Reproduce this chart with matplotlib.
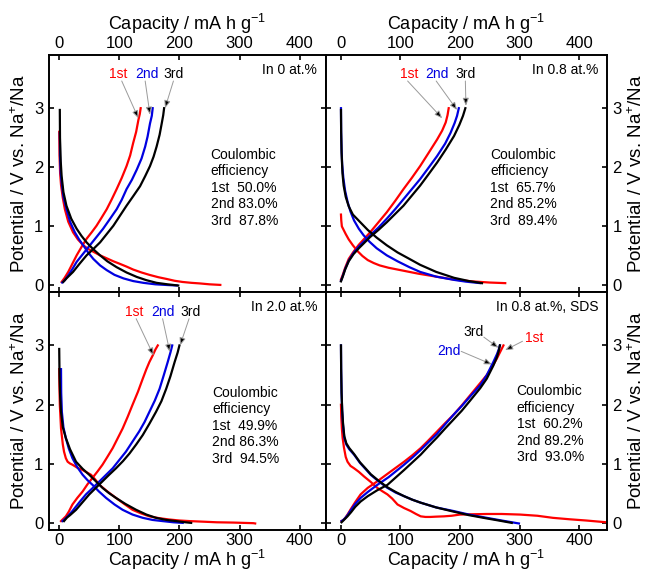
import matplotlib
matplotlib.use("Agg")
import matplotlib.pyplot as plt

plt.rcParams['font.family'] = ['Liberation Sans', 'DejaVu Sans']
plt.rcParams['mathtext.fontset'] = 'custom'
plt.rcParams['mathtext.rm'] = 'Liberation Sans'
plt.rcParams['mathtext.default'] = 'regular'

RED = '#ff0000'
BLUE = '#0000e0'
BLACK = '#000000'

# ---------------- Panel A: In 0 at.% ----------------
a_d1_x = [0, 0.5, 1.5, 3, 6, 9.4, 15, 23, 31, 40, 48, 57, 68, 79, 90, 100, 112, 123, 137, 150, 165, 179, 192, 205, 220, 234, 250, 268]
a_d1_y = [2.6, 2.2, 1.9, 1.7, 1.48, 1.29, 1.08, 0.9, 0.78, 0.68, 0.62, 0.57, 0.51, 0.46, 0.41, 0.37, 0.32, 0.27, 0.22, 0.18, 0.14, 0.11, 0.08, 0.06, 0.045, 0.035, 0.02, 0.01]
a_d2_x = [1, 1.3, 2.5, 4, 7, 12, 18, 26, 33, 40, 48, 56.7, 68, 79, 92, 107, 123, 140, 160, 180, 195.5]
a_d2_y = [2.58, 2.2, 1.9, 1.74, 1.5, 1.29, 1.08, 0.9, 0.78, 0.68, 0.56, 0.45, 0.34, 0.26, 0.18, 0.12, 0.075, 0.045, 0.02, 0.008, 0.0]
a_d3_x = [1, 1.3, 2.5, 4, 7, 12, 20, 29, 37, 45.5, 56, 68, 80, 95.5, 112, 129, 145, 162, 180, 198]
a_d3_y = [2.97, 2.5, 2.1, 1.85, 1.58, 1.35, 1.13, 0.96, 0.84, 0.73, 0.62, 0.51, 0.41, 0.31, 0.22, 0.145, 0.09, 0.045, 0.02, 0.0]
a_c1_x = [4, 9, 15, 22, 29, 37, 45.5, 54, 62, 70, 79, 87, 95.5, 104, 112, 118, 123, 128, 131.7, 134, 135.5]
a_c1_y = [0.06, 0.13, 0.23, 0.37, 0.51, 0.65, 0.79, 0.9, 1.01, 1.14, 1.29, 1.45, 1.63, 1.82, 2.02, 2.2, 2.41, 2.6, 2.8, 2.9, 3.0]
a_c2_x = [5, 9.4, 15, 22, 29, 40, 51, 62, 73, 84, 95.5, 104, 112, 121, 129, 137, 143, 147, 151, 154, 155.5]
a_c2_y = [0.05, 0.09, 0.17, 0.28, 0.4, 0.54, 0.68, 0.82, 0.96, 1.12, 1.29, 1.45, 1.63, 1.79, 1.96, 2.15, 2.35, 2.52, 2.74, 2.87, 3.0]
a_c3_x = [6.7, 12, 17, 23, 34, 45.5, 57, 68, 79, 90, 101, 112, 123, 134.5, 143, 151, 157, 162, 167, 170.5, 173, 174.5]
a_c3_y = [0.06, 0.12, 0.17, 0.23, 0.37, 0.51, 0.62, 0.73, 0.87, 1.01, 1.18, 1.35, 1.51, 1.68, 1.85, 2.02, 2.18, 2.35, 2.55, 2.74, 2.88, 3.0]
a_ce = ['50.0%', '83.0%', '87.8%']

# ---------------- Panel B: In 0.8 at.% ----------------
b_d1_x = [0, 0.5, 1.5, 4, 8, 13, 20, 28, 36, 45, 55, 65, 80, 100, 130, 160, 190, 220, 250, 276]
b_d1_y = [1.2, 1.1, 1.0, 0.95, 0.87, 0.78, 0.68, 0.58, 0.5, 0.43, 0.38, 0.34, 0.3, 0.26, 0.2, 0.15, 0.1, 0.07, 0.05, 0.04]
b_d2_x = [0, 0.3, 1, 2, 4, 7, 11, 16, 22, 30, 38, 48, 60, 77, 95, 115, 133, 160, 190, 210, 234]
b_d2_y = [3.0, 2.6, 2.3, 2.05, 1.82, 1.6, 1.42, 1.25, 1.1, 0.96, 0.85, 0.74, 0.63, 0.51, 0.41, 0.31, 0.23, 0.15, 0.095, 0.065, 0.04]
b_d3_x = [0, 0.3, 1, 2.5, 4.5, 8, 13, 20, 32.5, 45, 60, 77, 95, 115, 133, 160, 190, 215, 237]
b_d3_y = [2.97, 2.6, 2.25, 1.9, 1.69, 1.5, 1.34, 1.2, 1.07, 0.94, 0.81, 0.68, 0.56, 0.45, 0.35, 0.23, 0.13, 0.075, 0.04]
b_c1_x = [0, 3, 7, 13, 21, 30, 40, 49, 63, 77, 91, 105, 119, 133, 147, 161.5, 170, 176, 179, 181]
b_c1_y = [0.1, 0.18, 0.3, 0.45, 0.57, 0.69, 0.8, 0.9, 1.07, 1.24, 1.43, 1.63, 1.82, 2.02, 2.24, 2.47, 2.62, 2.76, 2.88, 3.0]
b_c2_x = [0, 3, 7, 13, 21, 30, 40, 49, 63, 77, 91, 105, 119, 133, 147, 161.5, 175, 184, 191, 195, 198]
b_c2_y = [0.08, 0.16, 0.28, 0.42, 0.55, 0.66, 0.76, 0.85, 0.98, 1.13, 1.29, 1.46, 1.63, 1.8, 1.99, 2.19, 2.4, 2.58, 2.75, 2.87, 3.0]
b_c3_x = [0, 3, 7, 13, 21, 30, 40, 49, 63, 77, 91, 105, 119, 133, 147, 161.5, 176, 190, 199, 205, 209]
b_c3_y = [0.07, 0.15, 0.27, 0.41, 0.53, 0.63, 0.73, 0.82, 0.94, 1.07, 1.21, 1.35, 1.52, 1.69, 1.88, 2.08, 2.3, 2.53, 2.72, 2.87, 3.0]
b_ce = ['65.7%', '85.2%', '89.4%']

# ---------------- Panel C: In 2.0 at.% ----------------
c_d1_x = [0, 0.3, 1, 3, 6, 8, 11, 14, 18, 22, 30, 39, 46, 53, 60, 67, 80, 94.5, 108, 122, 136, 150, 166, 183, 200, 217, 240, 262, 290, 323, 326]
c_d1_y = [2.6, 2.33, 2.0, 1.6, 1.33, 1.21, 1.1, 1.04, 1.01, 0.99, 0.94, 0.9, 0.86, 0.82, 0.74, 0.65, 0.54, 0.43, 0.33, 0.23, 0.17, 0.12, 0.09, 0.067, 0.05, 0.04, 0.03, 0.02, 0.015, 0.005, 0.0]
c_d2_x = [3, 3.3, 4.4, 7, 11, 16, 22, 30, 39, 47, 55.5, 66, 78, 92, 105.5, 122, 139, 155, 172, 190, 205.5]
c_d2_y = [2.6, 2.2, 1.88, 1.62, 1.44, 1.26, 1.1, 0.95, 0.82, 0.73, 0.65, 0.54, 0.43, 0.32, 0.23, 0.15, 0.095, 0.06, 0.04, 0.02, 0.01]
c_d3_x = [0, 0.5, 1.5, 3, 6, 11, 18, 28, 39, 50, 61, 72, 83, 94.5, 110, 128, 145, 161, 178, 194.5, 210, 219.5]
c_d3_y = [2.94, 2.5, 2.15, 1.88, 1.62, 1.44, 1.25, 1.04, 0.92, 0.82, 0.71, 0.6, 0.51, 0.43, 0.33, 0.23, 0.15, 0.095, 0.06, 0.04, 0.02, 0.01]
c_c1_x = [3, 7, 11, 16, 22, 30, 39, 47, 55.5, 64, 72, 80, 89, 97, 105.5, 114, 122, 131, 139, 145, 150, 155.5, 160, 164]
c_c1_y = [0.04, 0.08, 0.12, 0.2, 0.32, 0.43, 0.54, 0.66, 0.77, 0.88, 0.99, 1.12, 1.27, 1.43, 1.6, 1.8, 2.0, 2.22, 2.44, 2.6, 2.72, 2.83, 2.93, 3.0]
c_c2_x = [5.5, 10, 15, 22, 33, 44.5, 56, 67, 78, 89, 100, 111, 122, 133, 142, 150, 159, 167, 174, 180.5, 185, 188]
c_c2_y = [0.04, 0.08, 0.13, 0.21, 0.35, 0.49, 0.6, 0.71, 0.82, 0.93, 1.07, 1.21, 1.38, 1.55, 1.71, 1.88, 2.07, 2.27, 2.5, 2.72, 2.88, 3.0]
c_c3_x = [8, 13, 18, 28, 39, 50, 61, 72, 83, 94.5, 106, 117, 128, 139, 150, 161, 170, 178, 185, 192, 197, 200]
c_c3_y = [0.04, 0.1, 0.14, 0.23, 0.36, 0.49, 0.6, 0.71, 0.82, 0.93, 1.05, 1.18, 1.33, 1.49, 1.68, 1.88, 2.06, 2.27, 2.48, 2.72, 2.88, 3.0]
c_ce = ['49.9%', '86.3%', '94.5%']

# ---------------- Panel D: In 0.8 at.%, SDS ----------------
d_d1_x = [0, 0.5, 1.5, 2.8, 5, 8, 11, 16, 22, 30, 39, 50, 61, 70, 78, 86, 95, 106, 117, 126, 134, 142, 150, 160, 173, 186, 200, 220, 245, 270, 301, 330, 356, 385, 412, 446, 455]
d_d1_y = [2.0, 1.8, 1.6, 1.44, 1.28, 1.12, 1.04, 0.97, 0.93, 0.87, 0.79, 0.7, 0.6, 0.54, 0.49, 0.42, 0.32, 0.26, 0.21, 0.16, 0.12, 0.11, 0.11, 0.115, 0.12, 0.13, 0.15, 0.155, 0.16, 0.16, 0.15, 0.13, 0.095, 0.07, 0.05, 0.02, 0.01]
d_d2_x = [0, 0.3, 1, 2, 3.5, 5.6, 9, 14, 22, 32, 42, 50, 62, 78, 92, 106, 120, 134, 160, 189, 215, 245, 270, 299]
d_d2_y = [3.0, 2.6, 2.2, 1.9, 1.65, 1.44, 1.33, 1.25, 1.16, 1.02, 0.91, 0.82, 0.72, 0.6, 0.52, 0.46, 0.4, 0.35, 0.27, 0.21, 0.15, 0.095, 0.05, 0.0]
d_d3_x = [0, 0.3, 1, 2, 3.5, 5.6, 9, 14, 22, 32, 42, 50, 62, 78, 92, 106, 120, 134, 160, 189, 215, 245, 265, 287]
d_d3_y = [3.0, 2.6, 2.2, 1.92, 1.68, 1.47, 1.35, 1.27, 1.17, 1.03, 0.92, 0.83, 0.73, 0.61, 0.53, 0.46, 0.4, 0.35, 0.27, 0.2, 0.14, 0.085, 0.05, 0.01]
d_c1_x = [1, 4, 7, 11, 17, 24, 33, 45, 61, 80, 106, 120, 134, 147, 161.5, 175, 189, 203, 217, 231, 245, 254, 262, 268, 273]
d_c1_y = [0.04, 0.06, 0.09, 0.15, 0.25, 0.36, 0.49, 0.6, 0.71, 0.85, 1.04, 1.15, 1.27, 1.4, 1.55, 1.69, 1.83, 1.99, 2.16, 2.33, 2.5, 2.64, 2.78, 2.9, 3.0]
d_c2_x = [1, 4, 7, 11, 17, 24, 33, 45, 61, 80, 106, 120, 134, 147, 161.5, 175, 189, 203, 217, 234, 245, 256, 262, 265, 267]
d_c2_y = [0.04, 0.06, 0.09, 0.14, 0.23, 0.33, 0.43, 0.53, 0.65, 0.78, 0.99, 1.11, 1.24, 1.37, 1.51, 1.67, 1.83, 1.98, 2.14, 2.33, 2.5, 2.72, 2.85, 2.93, 3.0]
d_c3_x = [1, 4, 7, 11, 17, 24, 33, 45, 61, 78, 106, 120, 134, 147, 161.5, 175, 189, 203, 217, 234, 245, 256, 262, 265, 267]
d_c3_y = [0.02, 0.05, 0.08, 0.12, 0.19, 0.28, 0.37, 0.46, 0.56, 0.65, 0.9, 1.03, 1.16, 1.3, 1.45, 1.6, 1.75, 1.9, 2.07, 2.28, 2.44, 2.66, 2.8, 2.9, 3.0]
d_ce = ['60.2%', '89.2%', '93.0%']

cycle_labels = ['1st', '2nd', '3rd']
panel_titles = ['In 0 at.%', 'In 0.8 at.%', 'In 2.0 at.%', 'In 0.8 at.%, SDS']
x_ticks = [0, 100, 200, 300, 400]
y_ticks = [0, 1, 2, 3]

panels = [
    dict(d=[(a_d1_x, a_d1_y), (a_d2_x, a_d2_y), (a_d3_x, a_d3_y)],
         c=[(a_c1_x, a_c1_y), (a_c2_x, a_c2_y), (a_c3_x, a_c3_y)], ce=a_ce),
    dict(d=[(b_d1_x, b_d1_y), (b_d2_x, b_d2_y), (b_d3_x, b_d3_y)],
         c=[(b_c1_x, b_c1_y), (b_c2_x, b_c2_y), (b_c3_x, b_c3_y)], ce=b_ce),
    dict(d=[(c_d1_x, c_d1_y), (c_d2_x, c_d2_y), (c_d3_x, c_d3_y)],
         c=[(c_c1_x, c_c1_y), (c_c2_x, c_c2_y), (c_c3_x, c_c3_y)], ce=c_ce),
    dict(d=[(d_d1_x, d_d1_y), (d_d2_x, d_d2_y), (d_d3_x, d_d3_y)],
         c=[(d_c1_x, d_c1_y), (d_c2_x, d_c2_y), (d_c3_x, d_c3_y)], ce=d_ce),
]

# label text positions (data) and arrow tips (data)
ann = [
    dict(txt=[(98, 3.58), (145.5, 3.58), (190, 3.58)],
         start=[(104, 3.46), (143, 3.46), (190, 3.46)],
         tip=[(131.7, 2.83), (151, 2.89), (176, 3.0)],
         ce_x=252, ce_y=2.2),
    dict(txt=[(114, 3.58), (161.5, 3.58), (209, 3.58)],
         start=[(112, 3.46), (160, 3.46), (209, 3.46)],
         tip=[(170, 2.83), (195, 2.97), (210, 3.04)],
         ce_x=251, ce_y=2.2),
    dict(txt=[(125, 3.56), (172, 3.56), (218, 3.56)],
         start=[(128, 3.45), (172, 3.45), (216, 3.45)],
         tip=[(157, 2.83), (184, 2.89), (201, 3.0)],
         ce_x=254, ce_y=2.19),
    dict(txt=[(324, 3.12), (181, 2.9), (223, 3.22)],
         start=[(305, 3.07), (202, 2.9), (240, 3.14)],
         tip=[(275.8, 2.92), (253.5, 2.68), (264.6, 2.96)],
         ce_x=295, ce_y=2.22),
]

W, H = 647, 571
fig = plt.figure(figsize=(W / 100, H / 100), dpi=100)
xl = [49 / W, 325.5 / W, 607 / W]
yt = [1 - 55 / H, 1 - 292 / H, 1 - 530 / H]
xlims = [(-17, 443), (-26, 447)]
ylim = (-0.11, 3.9)

colors = [RED, BLUE, BLACK]
xlabel = 'Capacity / mA h g$^{-1}$'
ylabel = 'Potential / V vs. Na$^{+}$/Na'

for i, p in enumerate(panels):
    row, col = divmod(i, 2)
    ax = fig.add_axes([xl[col], yt[row + 1], xl[col + 1] - xl[col], yt[row] - yt[row + 1]])
    for k in range(3):
        ax.plot(*p['d'][k], color=colors[k], lw=1.6, solid_joinstyle='round')
        ax.plot(*p['c'][k], color=colors[k], lw=1.6, solid_joinstyle='round')
    ax.set_xlim(*xlims[col])
    ax.set_ylim(*ylim)
    ax.set_xticks(x_ticks)
    ax.set_yticks(y_ticks)
    for s in ax.spines.values():
        s.set_linewidth(1.4)
    ax.tick_params(direction='in', length=3.5, width=1.2, labelsize=12,
                   top=True, bottom=True, left=True, right=True,
                   labeltop=(row == 0), labelbottom=(row == 1),
                   labelleft=(col == 0), labelright=(col == 1))
    ax.tick_params(axis='x', pad=(3 if row == 0 else 2))
    ax.tick_params(axis='y', pad=4)
    if row == 0:
        ax.xaxis.set_label_position('top')
    if col == 1:
        ax.yaxis.set_label_position('right')
    ax.set_xlabel(xlabel, fontsize=13, labelpad=(4 if row == 0 else 0))
    ax.set_ylabel(ylabel, fontsize=13.5, labelpad=4)

    a = ann[i]
    for k in range(3):
        ax.text(*a['txt'][k], cycle_labels[k], color=colors[k], fontsize=10,
                ha='center', va='center')
        ax.annotate('', xy=a['tip'][k], xytext=a['start'][k],
                    arrowprops=dict(arrowstyle='-|>,head_length=0.45,head_width=0.18',
                                    ec='#9a9a9a', fc='black', lw=0.7,
                                    shrinkA=0, shrinkB=0))
    ax.text(0.97, 0.935, panel_titles[i], transform=ax.transAxes,
            ha='right', va='center', fontsize=10)
    ce_text = 'Coulombic\nefficiency\n' + '\n'.join(
        f'{lab}{"  " if lab != "2nd" else " "}{v}' for lab, v in zip(cycle_labels, p['ce']))
    ax.text(a['ce_x'], a['ce_y'] + 0.13, ce_text, fontsize=10, ha='left', va='top',
            linespacing=1.23)

fig.savefig('out.png', dpi=100)
